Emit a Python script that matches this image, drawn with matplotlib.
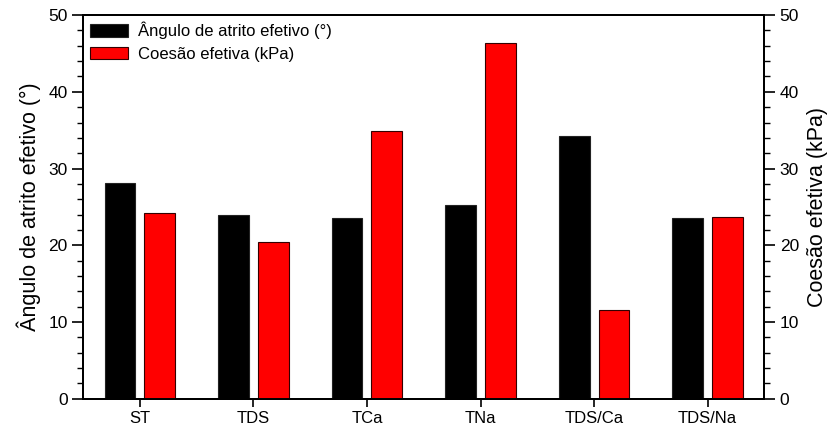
import matplotlib
matplotlib.use("Agg")
import matplotlib.pyplot as plt
import numpy as np
from matplotlib.ticker import MultipleLocator

plt.rcParams['font.family'] = ['Liberation Sans', 'DejaVu Sans']

categories = ["ST", "TDS", "TCa", "TNa", "TDS/Ca", "TDS/Na"]
angulo = [28.1, 23.9, 23.5, 25.25, 34.25, 23.6]
coesao = [24.2, 20.4, 34.9, 46.4, 11.6, 23.7]

fig = plt.figure(figsize=(8.3, 4.32), dpi=100)
ax = fig.add_axes([0.100, 0.077, 0.821, 0.888])
ax2 = ax.twinx()

x = np.arange(len(categories))
w = 0.27
off = 0.175
ax.bar(x - off, angulo, w, color="black", edgecolor="#222222", linewidth=0.8,
       label="Ângulo de atrito efetivo (°)")
ax2.bar(x + off, coesao, w, color="#ff0000", edgecolor="#330000", linewidth=0.8,
        label="Coesão efetiva (kPa)")

for a in (ax, ax2):
    a.set_ylim(0, 50)
    a.yaxis.set_major_locator(MultipleLocator(10))
    a.yaxis.set_minor_locator(MultipleLocator(2))
    a.tick_params(axis="y", which="major", direction="out", length=8, width=1.2,
                  labelsize=12.5, pad=3)
    a.tick_params(axis="y", which="minor", direction="out", length=4, width=1.0)
    for s in a.spines.values():
        s.set_linewidth(1.4)
ax.set_xlim(-0.5, 5.5)
ax.set_xticks(x)
ax.set_xticklabels(categories)
ax.tick_params(axis="x", direction="out", length=6, width=1.2, labelsize=12, pad=3)

ax.set_ylabel("Ângulo de atrito efetivo (°)", fontsize=15.5, labelpad=5)
ax2.set_ylabel("Coesão efetiva (kPa)", fontsize=15.5, labelpad=6)

h1, l1 = ax.get_legend_handles_labels()
h2, l2 = ax2.get_legend_handles_labels()
ax.legend(h1 + h2, l1 + l2, loc="upper left", frameon=False, fontsize=12,
          handlelength=2.3, handleheight=0.75, borderaxespad=0.0,
          labelspacing=0.45, handletextpad=0.6)

fig.savefig("out.png", dpi=100)
